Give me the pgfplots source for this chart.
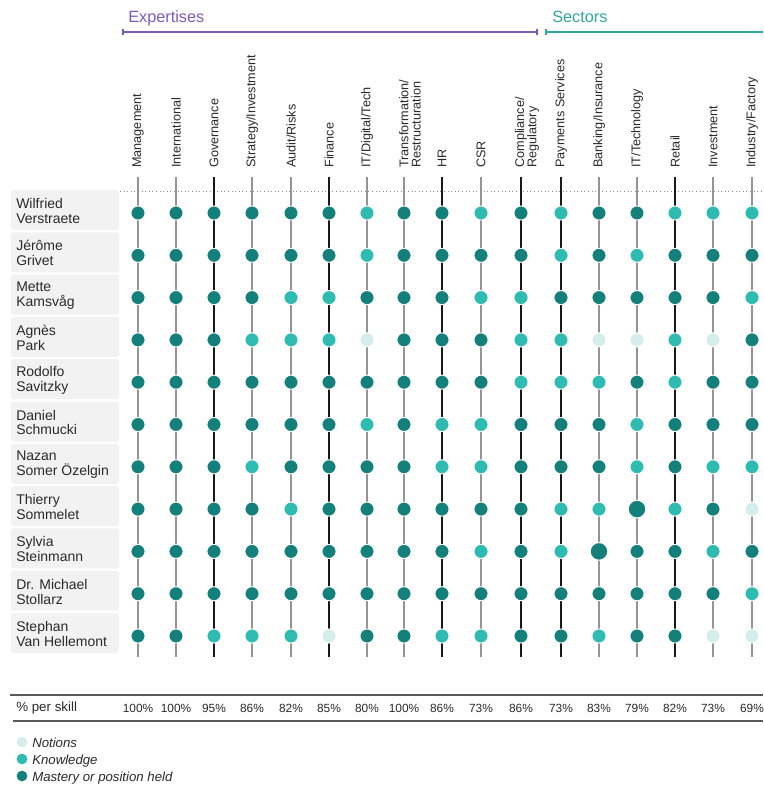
\documentclass[border=0pt]{standalone}
\usepackage{fontspec}
\setmainfont{Liberation Sans}
\usepackage{pgfplots}
\pgfplotsset{compat=1.18}
\usepackage{pgfplotstable}

\definecolor{mast}{HTML}{13807C}
\definecolor{know}{HTML}{2EBCB2}
\definecolor{notn}{HTML}{D6EEEB}
\definecolor{expc}{HTML}{7E5BBD}
\definecolor{secc}{HTML}{2FA898}
\definecolor{boxc}{HTML}{F2F2F2}
\definecolor{txt}{HTML}{2A2A2A}

% level: 1 = Notions, 2 = Knowledge, 3 = Mastery, 4 = Mastery (large dot)
\pgfplotstableread{
x r1 r2 r3 r4 r5 r6 r7 r8 r9 r10 r11
138 3 3 3 3 3 3 3 3 3 3 3
176 3 3 3 3 3 3 3 3 3 3 3
214 3 3 3 3 3 3 3 3 3 3 2
252 3 3 3 2 3 3 2 3 3 3 2
291 3 3 2 2 3 3 3 2 3 3 2
329 3 3 2 2 3 3 3 3 3 3 1
367 2 2 3 1 3 2 3 3 3 3 3
404 3 3 3 3 3 3 3 3 3 3 3
442 3 3 3 3 3 2 2 3 3 3 2
481 2 3 2 3 3 2 2 3 2 3 2
521 3 3 2 2 2 3 3 3 3 3 3
561 2 2 3 2 2 3 3 2 2 3 3
599 3 3 3 1 2 3 3 2 4 3 2
637 3 2 3 1 3 2 2 4 3 3 3
675 2 3 3 2 2 3 3 2 3 3 3
713 2 3 3 1 3 3 2 3 2 3 1
752 2 3 2 3 3 3 2 1 3 2 1
}\skills

\begin{document}
\begin{tikzpicture}
\begin{axis}[
  hide axis, scale only axis,
  width=572.25pt, height=588.75pt,
  xmin=0, xmax=763, ymin=0, ymax=785,
  y dir=reverse, clip=false,
]
% name boxes
\fill[boxc, rounded corners=2pt] (axis cs:11,190) rectangle (axis cs:119,230);
\fill[boxc, rounded corners=2pt] (axis cs:11,232.3) rectangle (axis cs:119,272.3);
\fill[boxc, rounded corners=2pt] (axis cs:11,274.6) rectangle (axis cs:119,314.6);
\fill[boxc, rounded corners=2pt] (axis cs:11,316.9) rectangle (axis cs:119,356.9);
\fill[boxc, rounded corners=2pt] (axis cs:11,359.2) rectangle (axis cs:119,399.2);
\fill[boxc, rounded corners=2pt] (axis cs:11,401.5) rectangle (axis cs:119,441.5);
\fill[boxc, rounded corners=2pt] (axis cs:11,443.8) rectangle (axis cs:119,483.8);
\fill[boxc, rounded corners=2pt] (axis cs:11,486.1) rectangle (axis cs:119,526.1);
\fill[boxc, rounded corners=2pt] (axis cs:11,528.4) rectangle (axis cs:119,568.4);
\fill[boxc, rounded corners=2pt] (axis cs:11,570.7) rectangle (axis cs:119,610.7);
\fill[boxc, rounded corners=2pt] (axis cs:11,613) rectangle (axis cs:119,653);

% dotted separator
\addplot[black!45, dotted, line width=0.7pt] coordinates {(120,191) (763,191)};

% vertical column lines
\pgfplotsinvokeforeach{138,176,252,291,367,404,481,599,637,713,752}{
  \addplot[black!42, line width=1.1pt] coordinates {(#1,177) (#1,657)};
}
\pgfplotsinvokeforeach{214,329,442,521,561,675}{
  \addplot[black!90, line width=1.0pt] coordinates {(#1,177) (#1,657)};
}

% dots
\pgfplotsinvokeforeach{1,...,11}{
  \addplot[only marks, scatter, point meta=explicit symbolic,
    scatter/classes={
      1={mark=*, mark size=5.3pt, draw=white, fill=notn, line width=0.7pt},
      2={mark=*, mark size=5.3pt, draw=white, fill=know, line width=0.7pt},
      3={mark=*, mark size=5.3pt, draw=white, fill=mast, line width=0.7pt},
      4={mark=*, mark size=6.6pt, draw=white, fill=mast, line width=0.7pt}}]
    table[x=x, y expr={213+42.3*(#1-1)}, meta=r#1] {\skills};
}

% group brackets
\addplot[expc, line width=1.4pt] coordinates {(123,32) (537,32)};
\addplot[expc, line width=0.8pt] coordinates {(123,29) (123,35)};
\addplot[expc, line width=0.8pt] coordinates {(537,29) (537,35)};
\addplot[secc, line width=1.4pt] coordinates {(546,32) (763,32)};
\addplot[secc, line width=0.8pt] coordinates {(546,29) (546,35)};
\node[anchor=base west, inner sep=0, text=expc, font=\fontsize{12.2}{14}\selectfont] at (axis cs:128,22) {Expertises};
\node[anchor=base west, inner sep=0, text=secc, font=\fontsize{12.2}{14}\selectfont] at (axis cs:552,22) {Sectors};

% column headers
\tikzset{hdr/.style={rotate=90, anchor=west, inner sep=0, text=txt, align=left, font=\fontsize{9.5}{9.3}\selectfont}}
\node[hdr] at (axis cs:138,168) {Management};
\node[hdr] at (axis cs:176,168) {International};
\node[hdr] at (axis cs:214,168) {Governance};
\node[hdr] at (axis cs:252,168) {Strategy/Investment};
\node[hdr] at (axis cs:291,168) {Audit/Risks};
\node[hdr] at (axis cs:329,168) {Finance};
\node[hdr] at (axis cs:367,168) {IT/Digital/Tech};
\node[hdr] at (axis cs:410,168) {Transformation/\\Restructuration};
\node[hdr] at (axis cs:442,168) {HR};
\node[hdr] at (axis cs:481,168) {CSR};
\node[hdr] at (axis cs:527,168) {Compliance/\\Regulatory};
\node[hdr] at (axis cs:561,168) {Payments Services};
\node[hdr] at (axis cs:599,168) {Banking/Insurance};
\node[hdr] at (axis cs:637,168) {IT/Technology};
\node[hdr] at (axis cs:675,168) {Retail};
\node[hdr] at (axis cs:713,168) {Investment};
\node[hdr] at (axis cs:752,168) {Industry/Factory};

% names
\tikzset{nm/.style={anchor=west, inner sep=0, text=txt, align=left, font=\fontsize{10.5}{11.2}\selectfont}}
\node[nm] at (axis cs:16,211) {Wilfried\\Verstraete};
\node[nm] at (axis cs:16,253.3) {Jérôme\\Grivet};
\node[nm] at (axis cs:16,295.6) {Mette\\Kamsvåg};
\node[nm] at (axis cs:16,337.9) {Agnès\\Park};
\node[nm] at (axis cs:16,380.2) {Rodolfo\\Savitzky};
\node[nm] at (axis cs:16,422.5) {Daniel\\Schmucki};
\node[nm] at (axis cs:16,464.8) {Nazan\\Somer Özelgin};
\node[nm] at (axis cs:16,507.1) {Thierry\\Sommelet};
\node[nm] at (axis cs:16,549.4) {Sylvia\\Steinmann};
\node[nm] at (axis cs:16,591.7) {Dr. Michael\\Stollarz};
\node[nm] at (axis cs:16,634) {Stephan\\Van Hellemont};

% percentage row
\addplot[black!65, line width=1.2pt] coordinates {(10,695) (763,695)};
\addplot[black!65, line width=1.0pt] coordinates {(13,721) (763,721)};
\node[anchor=west, inner sep=0, text=txt, font=\fontsize{10}{12}\selectfont] at (axis cs:16,708) {\% per skill};
\tikzset{pc/.style={anchor=center, inner sep=0, text=txt, font=\fontsize{8.9}{10}\selectfont}}
\node[pc] at (axis cs:138,708) {100\%};
\node[pc] at (axis cs:176,708) {100\%};
\node[pc] at (axis cs:214,708) {95\%};
\node[pc] at (axis cs:252,708) {86\%};
\node[pc] at (axis cs:291,708) {82\%};
\node[pc] at (axis cs:329,708) {85\%};
\node[pc] at (axis cs:367,708) {80\%};
\node[pc] at (axis cs:404,708) {100\%};
\node[pc] at (axis cs:442,708) {86\%};
\node[pc] at (axis cs:481,708) {73\%};
\node[pc] at (axis cs:521,708) {86\%};
\node[pc] at (axis cs:561,708) {73\%};
\node[pc] at (axis cs:599,708) {83\%};
\node[pc] at (axis cs:637,708) {79\%};
\node[pc] at (axis cs:675,708) {82\%};
\node[pc] at (axis cs:713,708) {73\%};
\node[pc] at (axis cs:752,708) {69\%};

% legend
\addplot[only marks, mark=*, mark size=3.8pt, color=notn] coordinates {(22,742)};
\addplot[only marks, mark=*, mark size=3.8pt, color=know] coordinates {(22,759)};
\addplot[only marks, mark=*, mark size=3.8pt, color=mast] coordinates {(22,776)};
\tikzset{lg/.style={anchor=west, inner sep=0, text=txt, font=\fontsize{9.9}{11}\selectfont\itshape}}
\node[lg] at (axis cs:32,743) {Notions};
\node[lg] at (axis cs:32,761) {Knowledge};
\node[lg] at (axis cs:32,778) {Mastery or position held};

\path (axis cs:0,0) (axis cs:763,785);
\end{axis}
\end{tikzpicture}
\end{document}
